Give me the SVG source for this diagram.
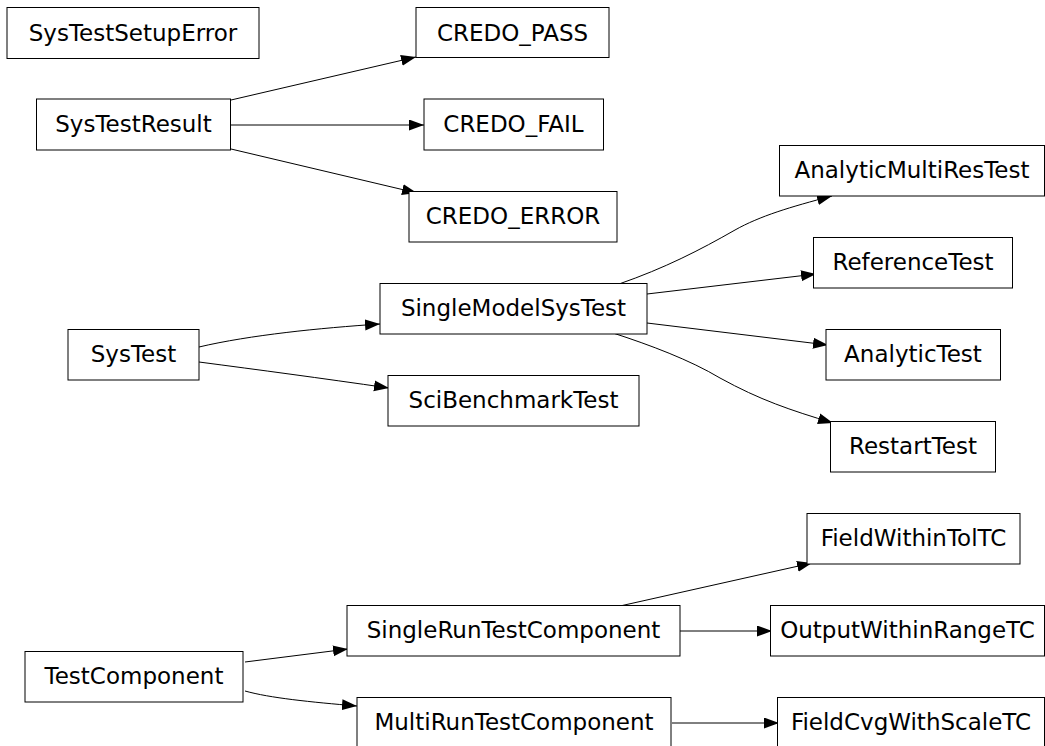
<svg xmlns="http://www.w3.org/2000/svg" width="1045" height="746" viewBox="0 0 1045 746">
<style>
.node rect{fill:#fff;stroke:#000;stroke-width:1}
.node text{font-family:"DejaVu Sans",sans-serif;font-size:23px;text-anchor:middle;fill:#000}
#edges path{fill:none;stroke:#000;stroke-width:1;marker-end:url(#ah)}
</style>
<defs>
<marker id="ah" markerUnits="userSpaceOnUse" markerWidth="16" markerHeight="12" refX="15" refY="5.5" orient="auto">
<path d="M0,0 L15,5.5 L0,11 z" fill="#000"/>
</marker>
</defs>
<rect width="1045" height="746" fill="#fff"/>
<g id="edges">
<path d="M231,100 L416,57"/>
<path d="M231,125 L424,125"/>
<path d="M231,149 L417,193"/>
<path d="M199,347 C250,335 320,328 380,324"/>
<path d="M199,362 C260,370 320,378 389,388"/>
<path d="M619,284 C665,268 700,250 735,230 C760,216 790,207 832,196"/>
<path d="M647,294 L816,274"/>
<path d="M647,323 L828,345"/>
<path d="M613,333 C650,345 690,360 720,378 C760,400 790,410 833,423"/>
<path d="M245,662 L348,649"/>
<path d="M245,691 C270,698 310,702 357,706"/>
<path d="M620,606 L812,563"/>
<path d="M680,631 L772,631"/>
<path d="M672,723 L779,723"/>
</g>
<g id="n_SysTestSetupError" class="node"><rect x="7" y="7.5" width="252" height="51"/><text x="133" y="40.5">SysTestSetupError</text></g>
<g id="n_CREDO_PASS" class="node"><rect x="416" y="7.5" width="193" height="50"/><text x="512.5" y="40.5">CREDO_PASS</text></g>
<g id="n_SysTestResult" class="node"><rect x="36.5" y="99" width="194" height="51"/><text x="133.5" y="132">SysTestResult</text></g>
<g id="n_CREDO_FAIL" class="node"><rect x="424" y="99" width="179.5" height="51"/><text x="513.5" y="132">CREDO_FAIL</text></g>
<g id="n_CREDO_ERROR" class="node"><rect x="409" y="191.5" width="208" height="50.5"/><text x="513" y="224">CREDO_ERROR</text></g>
<g id="n_AnalyticMultiResTest" class="node"><rect x="779.5" y="145.5" width="265" height="50.5"/><text x="912" y="178">AnalyticMultiResTest</text></g>
<g id="n_ReferenceTest" class="node"><rect x="813.5" y="237.5" width="199" height="50.5"/><text x="913" y="270">ReferenceTest</text></g>
<g id="n_SingleModelSysTest" class="node"><rect x="380" y="283.5" width="267" height="50.5"/><text x="513.5" y="316">SingleModelSysTest</text></g>
<g id="n_SysTest" class="node"><rect x="68" y="329.5" width="131" height="50.5"/><text x="133.5" y="362">SysTest</text></g>
<g id="n_AnalyticTest" class="node"><rect x="826" y="329.5" width="174.5" height="50.5"/><text x="913" y="362">AnalyticTest</text></g>
<g id="n_SciBenchmarkTest" class="node"><rect x="388" y="375.5" width="251" height="50.5"/><text x="513.5" y="408">SciBenchmarkTest</text></g>
<g id="n_RestartTest" class="node"><rect x="830.5" y="421.5" width="165" height="50.5"/><text x="913" y="454">RestartTest</text></g>
<g id="n_FieldWithinTolTC" class="node"><rect x="807" y="513.5" width="213" height="50.5"/><text x="913.5" y="546">FieldWithinTolTC</text></g>
<g id="n_SingleRunTestComponent" class="node"><rect x="347" y="605.5" width="333" height="50.5"/><text x="513.5" y="638">SingleRunTestComponent</text></g>
<g id="n_OutputWithinRangeTC" class="node"><rect x="770.5" y="605.5" width="274" height="50.5"/><text x="907.5" y="638">OutputWithinRangeTC</text></g>
<g id="n_TestComponent" class="node"><rect x="25" y="651.5" width="218" height="50.5"/><text x="134" y="684">TestComponent</text></g>
<g id="n_MultiRunTestComponent" class="node"><rect x="357" y="697.5" width="314" height="51"/><text x="514" y="730">MultiRunTestComponent</text></g>
<g id="n_FieldCvgWithScaleTC" class="node"><rect x="777.5" y="697.5" width="267" height="51"/><text x="911" y="730">FieldCvgWithScaleTC</text></g>
</svg>
